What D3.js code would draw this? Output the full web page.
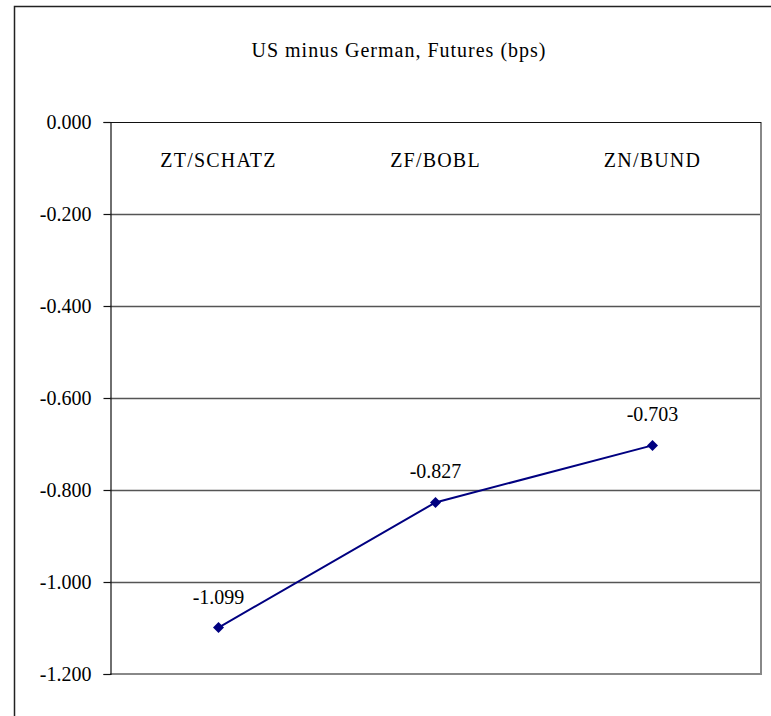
<!DOCTYPE html>
<html><head><meta charset="utf-8">
<script src="https://cdn.jsdelivr.net/npm/d3@7"></script>
<style>body{margin:0;background:#fff;}svg{display:block;}</style>
</head><body>
<script>
const categories = ["ZT/SCHATZ", "ZF/BOBL", "ZN/BUND"];
const values = [-1.099, -0.827, -0.703];
const yTicks = [0, -0.2, -0.4, -0.6, -0.8, -1.0, -1.2];
const title = "US minus German, Futures (bps)";

(function () {
const W = 771, H = 716;
const font = "'Liberation Serif', 'DejaVu Serif', serif";
const svg = d3.select("body").append("svg").attr("width", W).attr("height", H);
svg.append("rect").attr("width", W).attr("height", H).attr("fill", "#fff");

// outer chart border
svg.append("rect").attr("x", 14.5).attr("y", 6.5).attr("width", 770).attr("height", 720)
  .attr("fill", "none").attr("stroke", "#222").attr("stroke-width", 1.5);

const pL = 110, pR = 761, pT = 122, pB = 674;
const x = d3.scaleBand().domain(categories).range([pL, pR]);
const y = d3.scaleLinear().domain([-1.2, 0]).range([pB, pT]);

svg.append("text").attr("x", 399).attr("y", 57).attr("text-anchor", "middle")
  .attr("font-family", font).attr("font-size", 20).attr("letter-spacing", 1).attr("fill", "#000").text(title);

// gridlines
svg.append("g").selectAll("line").data(yTicks.filter(d => d !== 0 && d !== -1.2)).join("line")
  .attr("x1", pL).attr("x2", pR).attr("y1", d => Math.round(y(d)) + 0.5).attr("y2", d => Math.round(y(d)) + 0.5)
  .attr("stroke", "#555").attr("stroke-width", 1.3);

// plot frame: right/bottom grey, top/left black
svg.append("line").attr("x1", pR).attr("x2", pR).attr("y1", pT).attr("y2", pB + 1)
  .attr("stroke", "#888").attr("stroke-width", 2);
svg.append("line").attr("x1", pL).attr("x2", pR + 1).attr("y1", pB).attr("y2", pB)
  .attr("stroke", "#888").attr("stroke-width", 2);
svg.append("line").attr("x1", pL).attr("x2", pR).attr("y1", pT + 0.5).attr("y2", pT + 0.5)
  .attr("stroke", "#111").attr("stroke-width", 1.2);

// y axis
const yAxis = d3.axisLeft(y).tickValues(yTicks).tickFormat(d3.format(".3f")).tickSize(7).tickPadding(12);
const ga = svg.append("g").attr("transform", `translate(${pL + 0.5},0)`).call(yAxis);
ga.select(".domain").attr("stroke", "#111").attr("stroke-width", 1.2);
ga.selectAll(".tick line").attr("stroke", "#111").attr("stroke-width", 1.2);
ga.selectAll("text").attr("font-family", font).attr("font-size", 20).attr("fill", "#000");
ga.selectAll(".tick text").text(d => d3.format(".3f")(d).replace("−", "-"));

// category labels at top
svg.append("g").selectAll("text").data(categories).join("text")
  .attr("x", d => x(d) + x.bandwidth() / 2).attr("y", 167).attr("text-anchor", "middle")
  .attr("font-family", font).attr("font-size", 20).attr("letter-spacing", 1.2).attr("fill", "#000").text(d => d);

const pts = categories.map((c, i) => ({c, v: values[i]}));
svg.append("path").datum(pts)
  .attr("d", d3.line().x(d => x(d.c) + x.bandwidth() / 2).y(d => y(d.v)))
  .attr("fill", "none").attr("stroke", "#000080").attr("stroke-width", 2);

svg.append("g").selectAll("path").data(pts).join("path")
  .attr("transform", d => `translate(${x(d.c) + x.bandwidth() / 2},${y(d.v)})`)
  .attr("d", "M0,-5.5L5.5,0L0,5.5L-5.5,0Z").attr("fill", "#000080");

svg.append("g").selectAll("text").data(pts).join("text")
  .attr("x", d => x(d.c) + x.bandwidth() / 2).attr("y", d => y(d.v) - 24).attr("text-anchor", "middle")
  .attr("font-family", font).attr("font-size", 20).attr("fill", "#000").text(d => d3.format(".3f")(d.v).replace("−", "-"));
})();
</script>
</body></html>
